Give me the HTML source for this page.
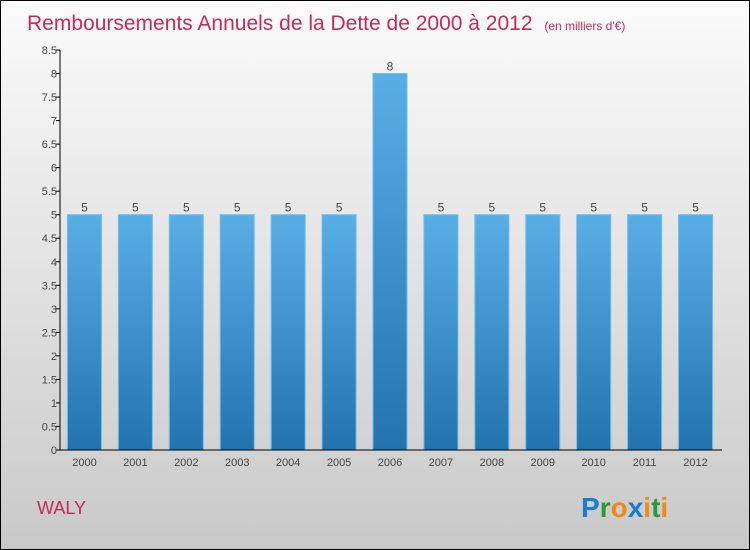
<!DOCTYPE html>
<html><head><meta charset="utf-8"><style>
body{margin:0}
#c{width:748px;height:548px;border:1px solid #000;background:linear-gradient(#fbfbfb,#c9c9c9);position:relative;font-family:"Liberation Sans",sans-serif;overflow:hidden}
</style></head><body>
<div id="c">
<svg id="s" width="748" height="548" style="position:absolute;left:0;top:0">
<defs><linearGradient id="g" x1="0" y1="0" x2="0" y2="1"><stop offset="0" stop-color="#5aaee6"/><stop offset="1" stop-color="#2273ae"/></linearGradient></defs>
<text x="26" y="29" font-size="21" fill="#c8285a">Remboursements Annuels de la Dette de 2000 à 2012 <tspan font-size="12" dx="6">(en milliers d'€)</tspan></text>
<text x="36" y="513" font-size="18" fill="#c8285a">WALY</text>
<text x="580" y="516" font-size="28" font-weight="bold"><tspan fill="#1a7ad4">P</tspan><tspan fill="#2a9a3a">r</tspan><tspan fill="#f08a10">o</tspan><tspan fill="#1a7ad4">x</tspan><tspan fill="#f08a10">i</tspan><tspan fill="#2a9a3a">t</tspan><tspan fill="#f08a10">i</tspan></text>
<g id="plot"></g>
</svg></div>
<script>
const categories=["2000","2001","2002","2003","2004","2005","2006","2007","2008","2009","2010","2011","2012"];
const values=[5,5,5,5,5,5,8,5,5,5,5,5,5];
const yTicks=[0,0.5,1,1.5,2,2.5,3,3.5,4,4.5,5,5.5,6,6.5,7,7.5,8,8.5];
const NS="http://www.w3.org/2000/svg";
const g=document.getElementById('plot');
const y0=449,yTop=49,yMax=8.5,xL=59,xR=721;
const yS=v=>y0-(y0-yTop)*v/yMax;
const step=(xR-xL)/categories.length;
const xC=i=>xL+step*(i+0.5)-1;
function mk(t,a,txt){const e=document.createElementNS(NS,t);for(const k in a)e.setAttribute(k,a[k]);if(txt!=null)e.textContent=txt;g.appendChild(e);return e;}
values.forEach((v,i)=>{
 const r=mk('rect',{x:xC(i)-17,y:yS(v),width:34,height:y0-yS(v),fill:'url(#g)',stroke:'#6bbdf0','stroke-width':1});
 
 
 const t=mk('text',{x:xC(i),y:yS(v)-3,'text-anchor':'middle','font-size':12,fill:'#444'},String(v));
 
 
 const c=mk('text',{x:xC(i),y:465,'text-anchor':'middle','font-size':11,fill:'#444'},categories[i]);
 
 
});
yTicks.forEach(v=>{
 const l=mk('line',{x1:xL-4,x2:xL,y1:yS(v),y2:yS(v),stroke:'#000'});
 
 
 const t=mk('text',{x:xL-3,y:yS(v)+4,'text-anchor':'end','font-size':11,fill:'#444'},String(v));
 
 
});
const ya=mk('line',{x1:xL,x2:xL,y1:yTop,y2:y0,stroke:'#000'});


const xa=mk('line',{x1:xL,x2:xR,y1:y0,y2:y0,stroke:'#000'});


</script>
</body></html>
